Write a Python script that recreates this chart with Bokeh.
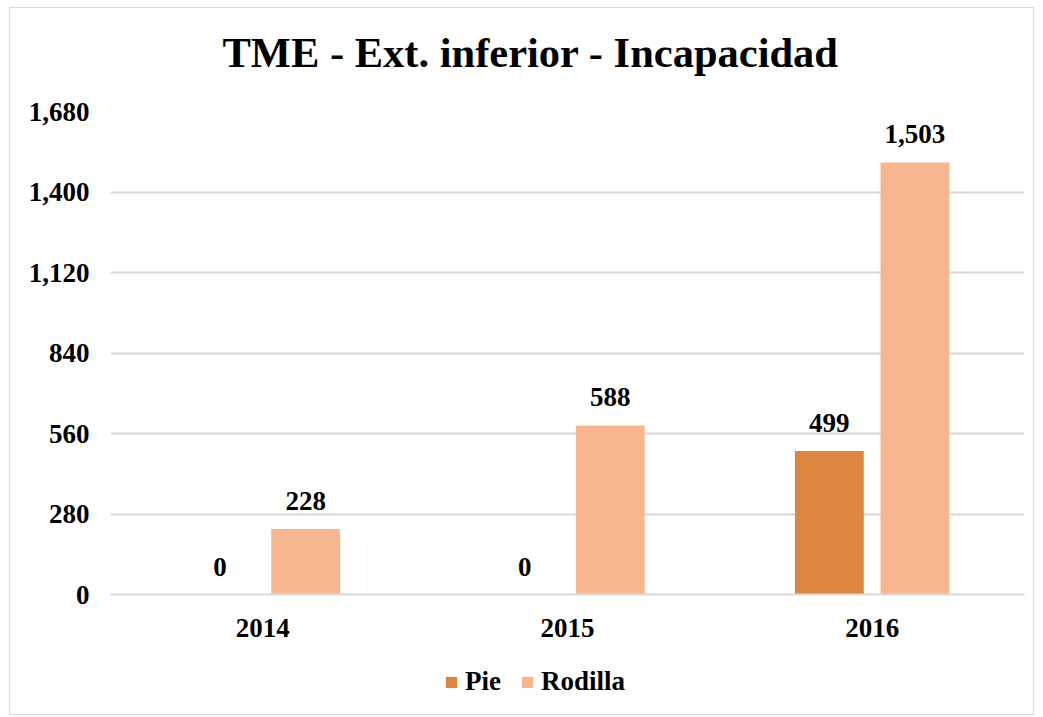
from bokeh.plotting import figure
from bokeh.layouts import column
from bokeh.models import (ColumnDataSource, FactorRange, FixedTicker, NumeralTickFormatter,
                          LabelSet, Legend, LegendItem, Range1d)
from bokeh.transform import dodge
from bokeh.embed import file_html
from bokeh.resources import INLINE

years = ["2014", "2015", "2016"]
pie = [0, 0, 499]
rodilla = [228, 588, 1503]
y_ticks = [0, 280, 560, 840, 1120, 1400, 1680]
series_names = ["Pie", "Rodilla"]

title_text = "TME - Ext. inferior - Incapacidad"
FONT = "Liberation Serif"
FS = "27px"
PIE_COLOR = "#DD8640"
ROD_COLOR = "#F8B690"
GRID = "#d9d9d9"

src = ColumnDataSource(dict(
    years=years, pie=pie, rodilla=rodilla,
    pie_lbl=[f"{v:,}" for v in pie], rod_lbl=[f"{v:,}" for v in rodilla],
))


def strip(h):
    f = figure(width=1023, height=h, output_backend="svg", toolbar_location=None,
               x_range=Range1d(0, 1), y_range=Range1d(0, 1),
               min_border_left=0, min_border_right=0, min_border_top=0, min_border_bottom=0)
    f.axis.visible = False
    f.grid.visible = False
    f.outline_line_color = None
    return f


# title strip above the chart
ts = strip(88)
ts.title.text = title_text
ts.title.align = "left"
ts.title.offset = 112
ts.title.standoff = 37
ts.title.text_font = FONT
ts.title.text_font_size = "42.5px"
ts.title.text_font_style = "bold"
ts.title.text_color = "black"

p = figure(x_range=FactorRange(*years), y_range=Range1d(0, 1680),
           width=1023, height=560, output_backend="svg", toolbar_location=None,
           min_border_left=100, min_border_right=9, min_border_top=15, min_border_bottom=62)

r1 = p.vbar(x=dodge("years", -0.1405, range=p.x_range), top="pie", width=0.226,
            source=src, color=PIE_COLOR, line_color=None)
r2 = p.vbar(x=dodge("years", 0.1405, range=p.x_range), top="rodilla", width=0.226,
            source=src, color=ROD_COLOR, line_color=None)

for col, lbl, off in [("pie", "pie_lbl", -0.1405), ("rodilla", "rod_lbl", 0.1405)]:
    ls = LabelSet(x=dodge("years", off, range=p.x_range), y=col, text=lbl, source=src,
                  text_align="center", text_baseline="alphabetic", y_offset=19,
                  text_font=FONT, text_font_size=FS, text_font_style="bold",
                  text_color="black")
    p.add_layout(ls)

p.yaxis.ticker = FixedTicker(ticks=y_ticks)
p.yaxis.formatter = NumeralTickFormatter(format="0,0")
p.yaxis.axis_line_color = None
p.yaxis.major_tick_line_color = None
p.yaxis.minor_tick_line_color = None
p.yaxis.major_label_standoff = 15
p.xaxis.axis_line_color = GRID
p.xaxis.axis_line_width = 2
p.xaxis.major_tick_line_color = None
p.xaxis.minor_tick_line_color = None
p.xaxis.major_label_standoff = 18
for ax in (p.xaxis, p.yaxis):
    ax.major_label_text_font = FONT
    ax.major_label_text_font_size = FS
    ax.major_label_text_font_style = "bold"
    ax.major_label_text_color = "black"

p.xgrid.grid_line_color = None
p.ygrid.grid_line_color = GRID
p.ygrid.grid_line_width = 2
p.outline_line_color = None
p.x_range.range_padding = 0
p.x_range.factor_padding = 0

# legend strip under the chart (legend glyphs only; the dummy bars lie outside its range)
lg = strip(58)
dummy = ColumnDataSource(dict(x=[-5.0], top=[-5.0]))
g1 = lg.vbar(x="x", top="top", bottom=-6.0, width=0.1, source=dummy, color=PIE_COLOR, line_color=None)
g2 = lg.vbar(x="x", top="top", bottom=-6.0, width=0.1, source=dummy, color=ROD_COLOR, line_color=None)
legend = Legend(items=[LegendItem(label=series_names[0], renderers=[g1]),
                       LegendItem(label=series_names[1], renderers=[g2])],
                orientation="horizontal", location=(334, 17),
                label_text_font=FONT, label_text_font_size=FS,
                label_text_font_style="bold", label_text_color="black",
                border_line_color=None, background_fill_alpha=0,
                glyph_width=14, glyph_height=14,
                spacing=19, label_standoff=7, padding=0, margin=0)
lg.add_layout(legend, "center")

layout = column(ts, p, lg, spacing=0)
layout.styles = {"border": "1px solid #d9d9d9", "margin": "7px 0 0 9px"}

open("out.html", "w").write(file_html(layout, INLINE))
